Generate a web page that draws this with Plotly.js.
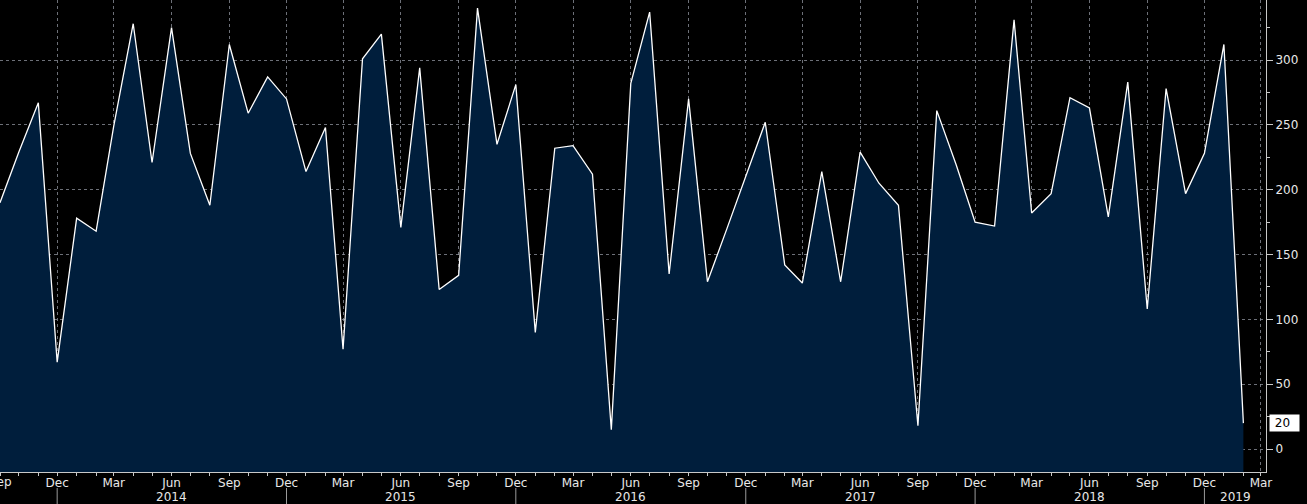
<!DOCTYPE html>
<html>
<head>
<meta charset="utf-8">
<script src="https://cdn.plot.ly/plotly-3.0.1.min.js"></script>
<style>html,body{margin:0;padding:0;background:#000;}#chart{width:1307px;height:504px;}</style>
</head>
<body>
<div id="chart"></div>
<script>
// Monthly values, Sep 2013 - Feb 2019
const months = [
  '2013-09','2013-10','2013-11','2013-12',
  '2014-01','2014-02','2014-03','2014-04','2014-05','2014-06','2014-07','2014-08','2014-09','2014-10','2014-11','2014-12',
  '2015-01','2015-02','2015-03','2015-04','2015-05','2015-06','2015-07','2015-08','2015-09','2015-10','2015-11','2015-12',
  '2016-01','2016-02','2016-03','2016-04','2016-05','2016-06','2016-07','2016-08','2016-09','2016-10','2016-11','2016-12',
  '2017-01','2017-02','2017-03','2017-04','2017-05','2017-06','2017-07','2017-08','2017-09','2017-10','2017-11','2017-12',
  '2018-01','2018-02','2018-03','2018-04','2018-05','2018-06','2018-07','2018-08','2018-09','2018-10','2018-11','2018-12',
  '2019-01','2019-02'
];
const values = [
  190, 229, 267, 67,
  178, 168, 249, 328, 221, 325, 228, 188, 312, 259, 287, 270,
  214, 248, 77, 301, 320, 171, 294, 123, 134, 340, 235, 281,
  90, 232, 234, 212, 15, 282, 337, 135, 270, 129, 170, 211,
  252, 142, 128, 214, 129, 229, 205, 188, 18, 261, 219, 175,
  172, 331, 182, 197, 271, 263, 179, 283, 108, 278, 197, 228,
  312, 20
];
const yearLabels = ['2014','2015','2016','2017','2018','2019'];
const yearLabelDates = ['2014-06-01','2015-06-01','2016-06-01','2017-06-01','2018-06-01','2019-01-20'];
const yearSeparators = ['2013-12-01','2014-12-01','2015-12-01','2016-12-01','2017-12-01','2018-12-01'];
const firstMonthLabel = 'Sep';
const lastValue = values[values.length - 1];

const FILL = '#001e3c';
const TXT = '#e8e8e8';
const GRID = 'rgba(145,150,160,0.75)';
const FONT = 'DejaVu Sans, Verdana, sans-serif';
const FS = 12;

const baseline = {
  x: months, y: months.map(() => -1000),
  mode: 'lines', line: {width: 0, color: FILL},
  hoverinfo: 'skip', showlegend: false
};
const series = {
  x: months, y: values,
  mode: 'lines', fill: 'tonexty', fillcolor: FILL,
  line: {color: '#ffffff', width: 1.3},
  showlegend: false
};

const annotations = yearLabels.map((t, i) => ({
  x: yearLabelDates[i], xref: 'x', y: 0, yref: 'paper',
  yanchor: 'top', yshift: -16, showarrow: false,
  text: t, font: {family: FONT, size: FS, color: TXT}
}));
// partially clipped first month label at the left edge
annotations.push({
  x: months[0], xref: 'x', y: 0, yref: 'paper',
  yanchor: 'top', yshift: -1, showarrow: false,
  text: firstMonthLabel, font: {family: FONT, size: FS, color: TXT}
});
annotations.push({
  x: 1, xref: 'paper', y: lastValue, yref: 'y',
  xanchor: 'left', xshift: 3, showarrow: false,
  text: ' ' + lastValue + '  ', bgcolor: '#ffffff', borderpad: 1,
  font: {family: FONT, size: FS, color: '#000000'}
});

const shapes = yearSeparators.map(d => ({
  type: 'line', xref: 'x', yref: 'paper',
  x0: d, x1: d, y0: -16/472, y1: -40/472,
  line: {color: '#9a9a9a', width: 1}
}));

const layout = {
  width: 1307, height: 504,
  margin: {l: 0, r: 41, t: 0, b: 32},
  paper_bgcolor: '#000000', plot_bgcolor: '#000000',
  font: {family: FONT, size: FS, color: TXT},
  xaxis: {
    type: 'date', range: ['2013-09-01', '2019-03-09'],
    tick0: '2013-09-01', dtick: 'M3', tickformat: '%b',
    ticks: 'outside', ticklen: 3, tickcolor: '#c8c8c8',
    ticklabelstandoff: -3,
    showgrid: true, gridcolor: GRID, griddash: 'dot', gridwidth: 1,
    minor: {dtick: 'M1', tick0: '2013-09-01', ticks: 'outside', ticklen: 3, tickcolor: '#c8c8c8', showgrid: false},
    showline: true, linecolor: '#c8c8c8', linewidth: 1,
    zeroline: false, fixedrange: true,
    tickfont: {family: FONT, size: FS, color: TXT}
  },
  yaxis: {
    side: 'right', range: [-17.7, 346.3],
    tick0: 0, dtick: 50,
    ticks: 'outside', ticklen: 6, tickcolor: '#c8c8c8',
    minor: {dtick: 25, tick0: 0, ticks: 'outside', ticklen: 3, tickcolor: '#c8c8c8', showgrid: false},
    showgrid: true, gridcolor: GRID, griddash: 'dot', gridwidth: 1,
    showline: true, linecolor: '#c8c8c8', linewidth: 1,
    zeroline: false, fixedrange: true,
    tickfont: {family: FONT, size: FS, color: TXT}
  },
  annotations: annotations,
  shapes: shapes,
  hovermode: false
};

Plotly.newPlot('chart', [baseline, series], layout, {staticPlot: true, displayModeBar: false});
</script>
</body>
</html>
